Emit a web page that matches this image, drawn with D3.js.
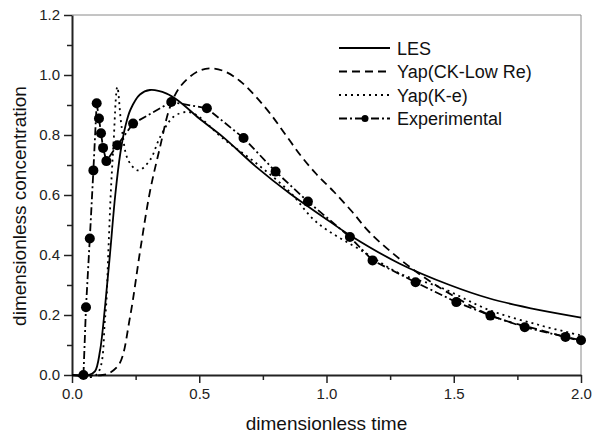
<!DOCTYPE html>
<html>
<head>
<meta charset="utf-8">
<script src="https://cdn.jsdelivr.net/npm/d3@7"></script>
<style>
body { margin: 0; background: white; }
svg { font-family: "Liberation Sans", Arial, sans-serif; }
</style>
</head>
<body>
<script>
const svgWidth = 596;
const svgHeight = 436;

// LES
const lesTime = [0, 0.065, 0.09, 0.11, 0.13, 0.15, 0.17, 0.19, 0.21, 0.23, 0.267, 0.306, 0.372, 0.424, 0.5, 0.594, 0.725, 0.856, 0.987, 1.092, 1.288, 1.484, 1.641, 1.838, 2.0];
const lesConc = [0, 0, 0.012, 0.08, 0.23, 0.41, 0.6, 0.74, 0.83, 0.885, 0.935, 0.95, 0.938, 0.91, 0.855, 0.793, 0.693, 0.605, 0.527, 0.466, 0.371, 0.3, 0.255, 0.216, 0.191];

// Yap(CK-Low Re)
const ckTime = [0, 0.12, 0.15, 0.188, 0.228, 0.267, 0.306, 0.346, 0.385, 0.424, 0.49, 0.54, 0.6, 0.66, 0.72, 0.78, 0.84, 0.9, 0.96, 1.03, 1.1, 1.17, 1.29, 1.42, 1.641, 1.838, 2.0];
const ckConc = [0, 0, 0.008, 0.04, 0.193, 0.41, 0.61, 0.76, 0.893, 0.96, 1.01, 1.022, 1.012, 0.98, 0.93, 0.87, 0.8, 0.73, 0.67, 0.61, 0.545, 0.475, 0.385, 0.305, 0.2, 0.15, 0.113];

// Yap(K-e)
const keTime = [0, 0.095, 0.13, 0.143, 0.152, 0.163, 0.178, 0.195, 0.221, 0.26, 0.306, 0.346, 0.398, 0.45, 0.49, 0.594, 0.725, 0.856, 0.96, 1.157, 1.288, 1.445, 1.641, 1.838, 2.0];
const keConc = [0, 0, 0.19, 0.416, 0.6, 0.77, 0.96, 0.827, 0.716, 0.682, 0.716, 0.793, 0.86, 0.877, 0.866, 0.788, 0.705, 0.61, 0.51, 0.405, 0.338, 0.293, 0.216, 0.166, 0.132];

// Experimental
const expTime = [0.045, 0.055, 0.07, 0.084, 0.097, 0.106, 0.114, 0.122, 0.135, 0.178, 0.24, 0.39, 0.53, 0.674, 0.8, 0.927, 1.092, 1.181, 1.35, 1.51, 1.644, 1.779, 1.939, 2.0];
const expConc = [0, 0.226, 0.455, 0.682, 0.906, 0.855, 0.806, 0.757, 0.713, 0.766, 0.838, 0.91, 0.889, 0.79, 0.678, 0.578, 0.46, 0.382, 0.309, 0.243, 0.198, 0.159, 0.127, 0.116];

const xTicks = [0, 0.5, 1.0, 1.5, 2.0];
const yTicks = [0, 0.2, 0.4, 0.6, 0.8, 1.0, 1.2];
const seriesNames = ["LES", "Yap(CK-Low Re)", "Yap(K-e)", "Experimental"];

const plot = {left: 72, right: 581, top: 15, bottom: 375};

const svgContainer = d3.select("body")
.append("svg")
.attr("width", svgWidth)
.attr("height", svgHeight);

const x = d3.scaleLinear().domain([0, 2]).range([plot.left, plot.right]);
const y = d3.scaleLinear().domain([0, 1.2]).range([plot.bottom, plot.top]);

// frame: thin grey top/right
svgContainer.append("path")
.attr("d", `M${plot.left},${plot.top}H${plot.right}V${plot.bottom}`)
.attr("fill", "none")
.attr("stroke", "#8a8a8a")
.attr("stroke-width", 1);

// minor ticks
svgContainer.append("g")
.attr("transform", `translate(0,${plot.bottom})`)
.call(d3.axisBottom(x).tickValues(d3.range(0.25, 2, 0.5)).tickSize(5).tickFormat(""))
.call(g => g.select(".domain").remove())
.selectAll("line").attr("stroke", "#222").attr("stroke-width", 1.5);

svgContainer.append("g")
.attr("transform", `translate(${plot.left},0)`)
.call(d3.axisLeft(y).tickValues(d3.range(0.1, 1.2, 0.2)).tickSize(5).tickFormat(""))
.call(g => g.select(".domain").remove())
.selectAll("line").attr("stroke", "#222").attr("stroke-width", 1.5);

const xAxis = svgContainer.append("g")
.attr("transform", `translate(0,${plot.bottom})`)
.call(d3.axisBottom(x).tickValues(xTicks).tickSize(8).tickSizeOuter(0).tickPadding(5).tickFormat(d3.format(".1f")));

const yAxis = svgContainer.append("g")
.attr("transform", `translate(${plot.left},0)`)
.call(d3.axisLeft(y).tickValues(yTicks).tickSize(8).tickSizeOuter(0).tickPadding(4).tickFormat(d3.format(".1f")));

[xAxis, yAxis].forEach(ax => {
  ax.select(".domain").attr("stroke", "#222").attr("stroke-width", 2);
  ax.selectAll("line").attr("stroke", "#222").attr("stroke-width", 1.5);
  ax.selectAll("text").attr("font-size", 15).attr("font-family", "Liberation Sans, Arial, sans-serif").attr("fill", "#222");
});

svgContainer.append("text")
.attr("x", (plot.left + plot.right) / 2)
.attr("y", 430)
.attr("text-anchor", "middle")
.attr("font-size", 19)
.attr("fill", "#111")
.text("dimensionless time");

svgContainer.append("text")
.attr("transform", "translate(26,206) rotate(-90)")
.attr("text-anchor", "middle")
.attr("font-size", 19)
.attr("fill", "#111")
.text("dimensionless concentration");

const styles = [
  {dash: null},
  {dash: "8,5"},
  {dash: "2,4"},
  {dash: "8,3,2,3"}
];

const smooth = d3.line()
.x(d => x(d[0]))
.y(d => y(d[1]))
.curve(d3.curveCatmullRom.alpha(0.5));

const straight = d3.line()
.x(d => x(d[0]))
.y(d => y(d[1]));

const seriesData = [
  d3.zip(lesTime, lesConc),
  d3.zip(ckTime, ckConc),
  d3.zip(keTime, keConc),
  d3.zip(expTime, expConc)
];

seriesData.forEach((data, i) => {
  svgContainer.append("path")
  .datum(data)
  .attr("d", i === 3 ? straight : smooth)
  .attr("fill", "none")
  .attr("stroke", "#000")
  .attr("stroke-width", 1.8)
  .attr("stroke-dasharray", styles[i].dash);
});

svgContainer.append("g")
.selectAll("circle")
.data(seriesData[3])
.enter()
.append("circle")
.attr("cx", d => x(d[0]))
.attr("cy", d => y(d[1]))
.attr("r", 5)
.attr("fill", "#000");

// legend
const legend = svgContainer.append("g").attr("transform", "translate(339,48)");

seriesNames.forEach((name, i) => {
  const row = legend.append("g").attr("transform", `translate(0,${i * 23.5})`);
  row.append("line")
  .attr("x1", 0)
  .attr("x2", 51)
  .attr("stroke", "#000")
  .attr("stroke-width", 1.8)
  .attr("stroke-dasharray", styles[i].dash);
  if (i === 3) {
    row.append("circle").attr("cx", 26).attr("r", 3.5).attr("fill", "#000");
  }
  row.append("text")
  .attr("x", 58)
  .attr("y", 6.5)
  .attr("font-size", 18)
  .attr("fill", "#111")
  .text(name);
});
</script>
</body>
</html>
